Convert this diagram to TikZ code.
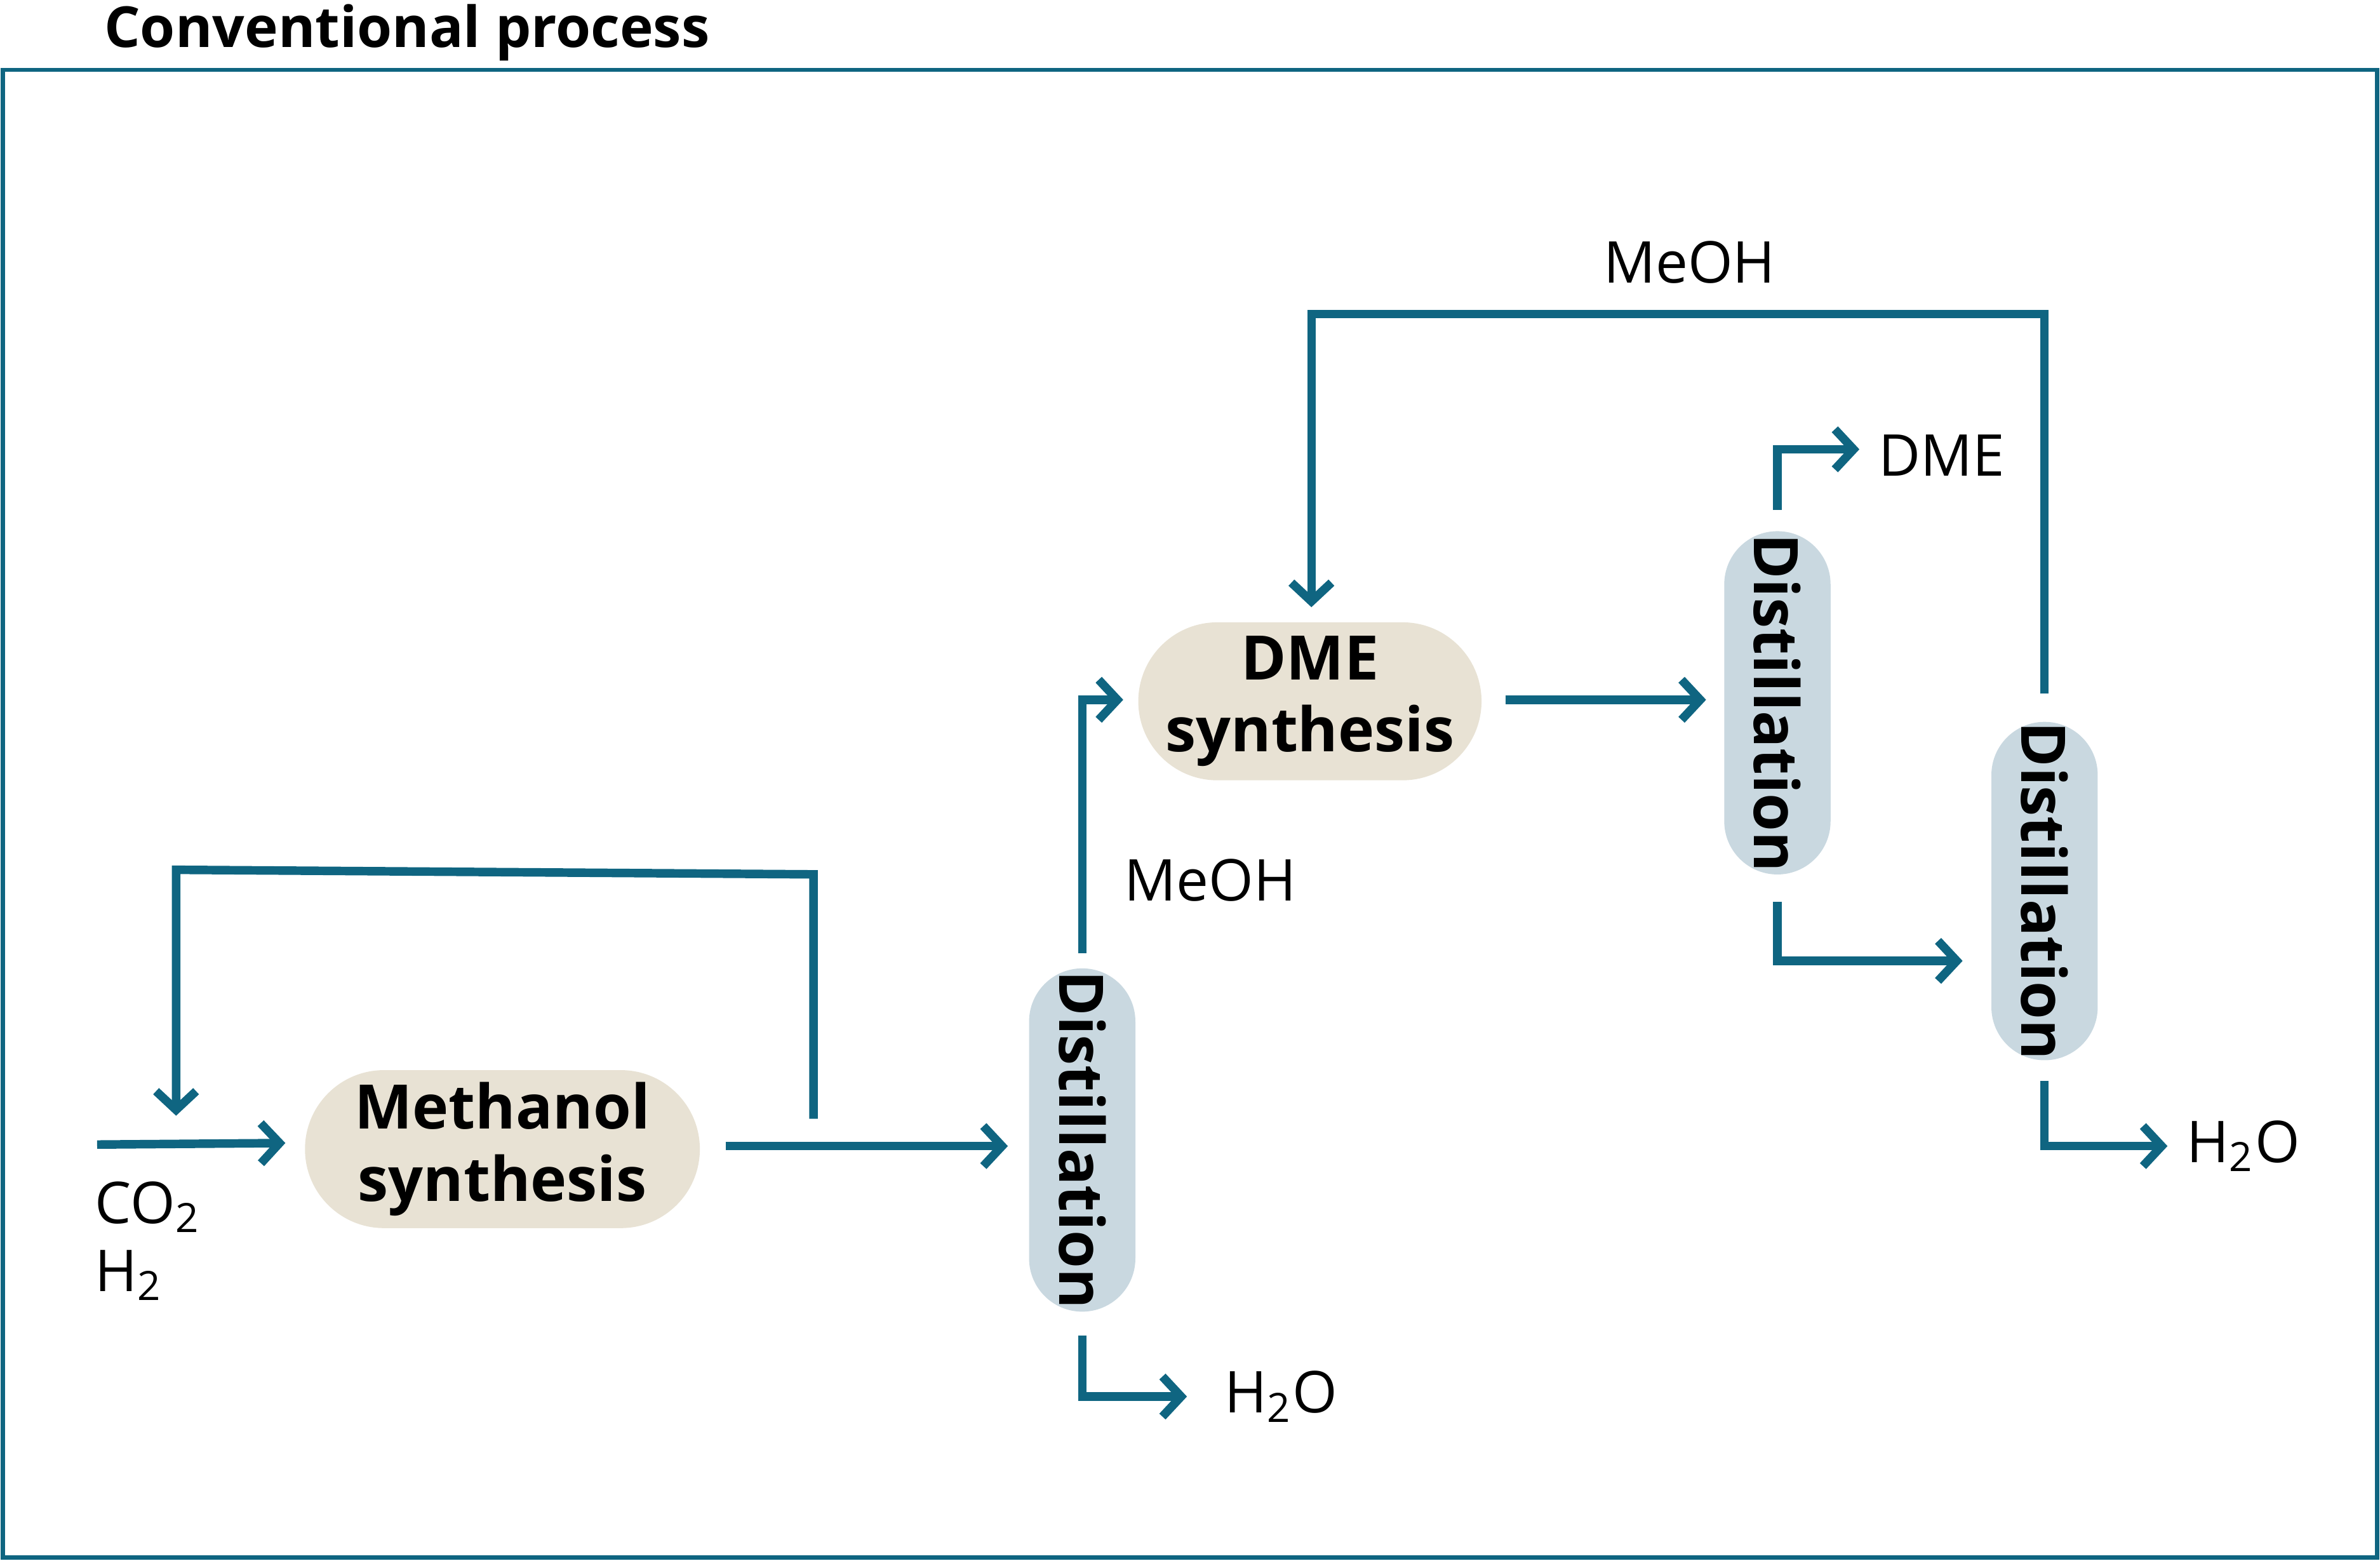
\documentclass[tikz,border=0pt]{standalone}
\usepackage{fontspec}
\setmainfont{Open Sans}
\usetikzlibrary{arrows.meta,positioning}
\definecolor{flowblue}{HTML}{0F6581}
\definecolor{reactbeige}{HTML}{E8E2D4}
\definecolor{distgrey}{HTML}{C9D8E0}
\tikzset{flow/.style={draw=flowblue,line width=1.6pt,-{Straight Barb[length=3.5pt,width=7.5pt,line width=1.6pt]}}}
\tikzset{reactor/.style={rounded corners=0.52cm,fill=reactbeige,minimum width=2.6cm,minimum height=1.04cm,inner sep=0pt,align=center,font=\fontsize{11.5}{13.5}\selectfont\bfseries}}
\tikzset{column/.style={rounded corners=0.35cm,fill=distgrey,minimum width=2.26cm,minimum height=0.7cm,inner sep=0pt,rotate=-90,font=\fontsize{11.5}{14}\selectfont\bfseries}}
\tikzset{label/.style={font=\fontsize{10.8}{13}\selectfont,inner sep=0pt}}
\begin{document}
\begin{tikzpicture}[x=0.01cm,y=-0.01cm]
\useasboundingbox (0,0) rectangle (1568,1028);
\draw[flowblue,line width=0.8pt] (2,46) rectangle (1566,1026);
\node[anchor=base west,inner sep=0pt,font=\fontsize{10.6}{13}\selectfont\bfseries] (title) at (68,31) {Conventional process};
% units
\node[reactor] (meth) at (331,757) {Methanol\\synthesis};
\node[reactor,minimum width=2.26cm] (dme) at (863,462) {DME\\synthesis};
\node[column] (dist1) at (713,751) {Distillation};
\node[column] (dist2) at (1171,463) {Distillation};
\node[column,minimum width=2.16cm] (dist3) at (1347,587) {Distillation};
% stream ends
\coordinate (feed) at (64,754);
\coordinate (methin) at (188,753);
\coordinate (methout) at (478,755);
\coordinate (recyc) at (536,737);
\coordinate (mix) at (116,735);
\coordinate (d1in) at (664,755);
\coordinate (d1top) at (713,628);
\coordinate (d1bot) at (713,880);
\coordinate (dmein) at (740,461);
\coordinate (dmeout) at (992,461);
\coordinate (d2in) at (1124,461);
\coordinate (d2top) at (1171,336);
\coordinate (d2bot) at (1171,594);
\coordinate (d3in) at (1293,633);
\coordinate (d3top) at (1347,457);
\coordinate (d3bot) at (1347,712);
\coordinate (dmetop) at (864,400);
% labels
\node[label,anchor=west] (co2) at (62,795) {CO\textsubscript{2}};
\node[label,anchor=west] (h2) at (62,840) {H\textsubscript{2}};
\node[label,anchor=west] (w1) at (806,920) {H\textsubscript{2}O};
\node[label,anchor=west] (m1) at (740,580) {MeOH};
\node[label,anchor=west] (dmep) at (1237,300) {DME};
\node[label] (m2) at (1113,173) {MeOH};
\node[label,anchor=west] (w2) at (1440,755) {H\textsubscript{2}O};
% streams
\draw[flow] (feed) -- (methin);
\draw[flow] (recyc) -- (536,576) -- (116,573) -- (mix);
\draw[flow] (methout) -- (d1in);
\draw[flow] (d1bot) -- (713,920) -- (782,920);
\draw[flow] (d1top) -- (713,461) -- (dmein);
\draw[flow] (dmeout) -- (d2in);
\draw[flow] (d2top) -- (1171,296) -- (1225,296);
\draw[flow] (d2bot) -- (1171,633) -- (d3in);
\draw[flow] (d3top) -- (1347,207) -- (864,207) -- (dmetop);
\draw[flow] (d3bot) -- (1347,755) -- (1428,755);
\end{tikzpicture}
\end{document}
